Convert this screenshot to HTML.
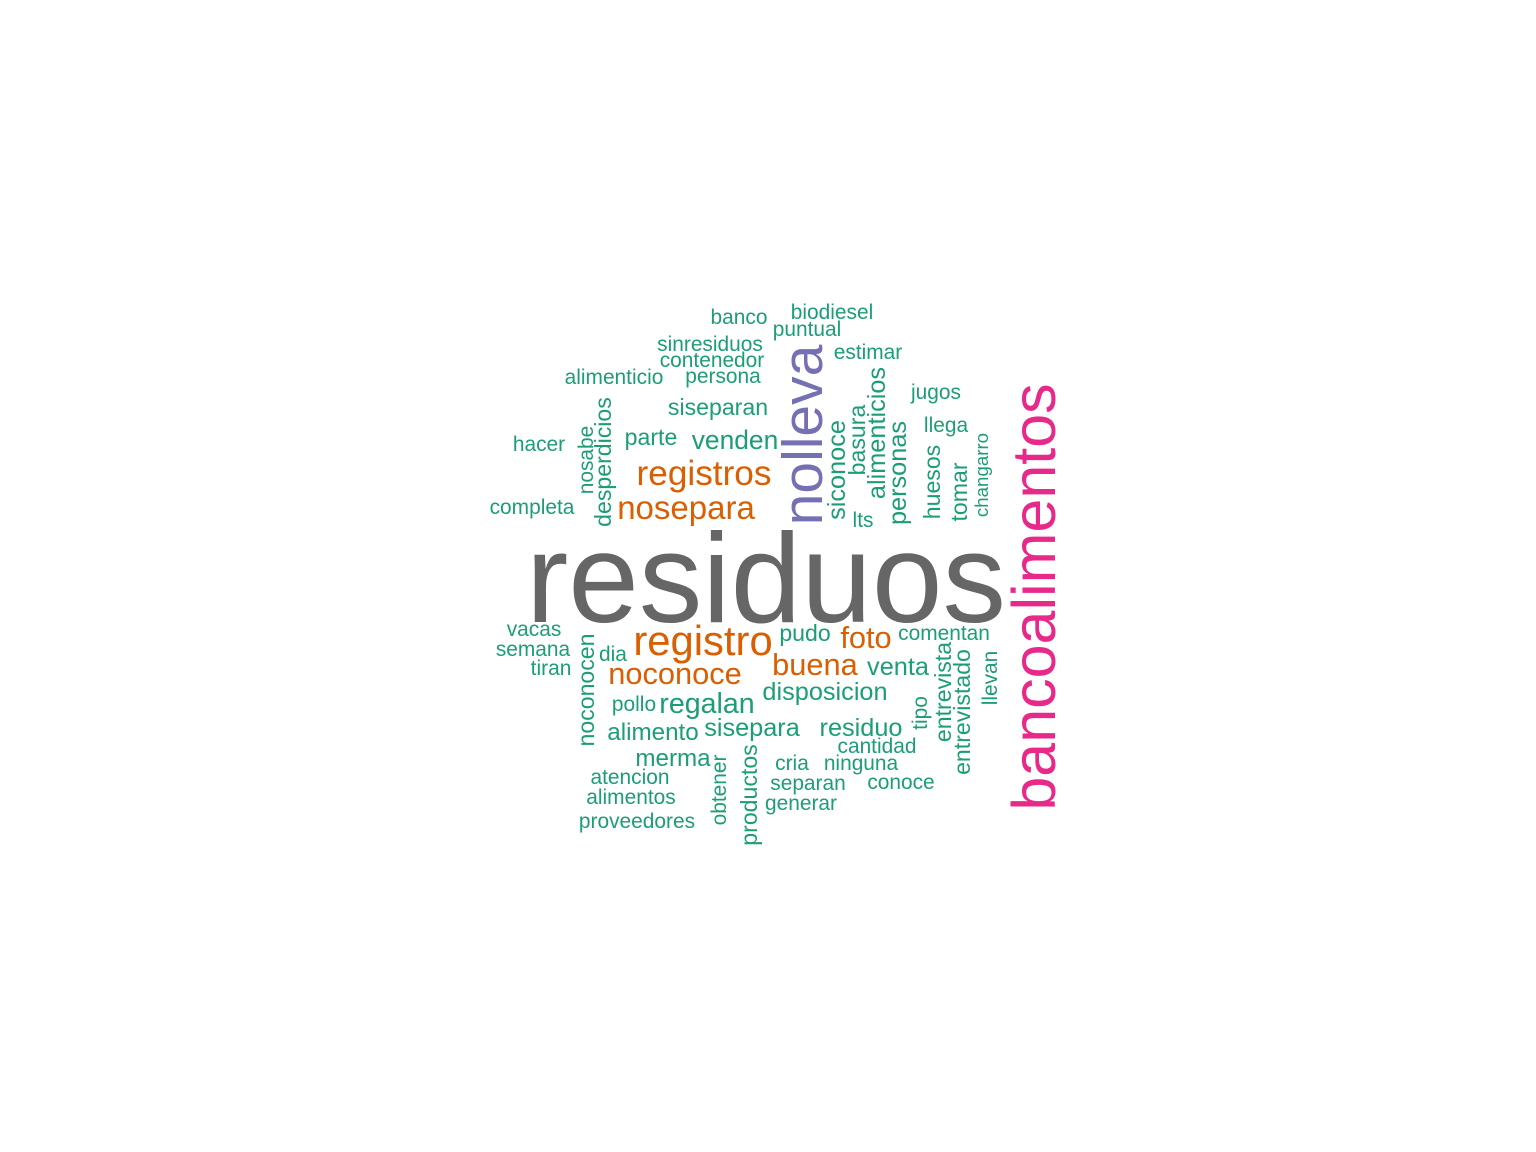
<!DOCTYPE html>
<html>
<head>
<meta charset="utf-8">
<style>
html,body{margin:0;padding:0;background:#fff;}
svg{display:block;}
text{font-family:"Liberation Sans",Arial,sans-serif;}
</style>
</head>
<body>
<svg id="cloud" width="1536" height="1152" viewBox="0 0 1536 1152" xmlns="http://www.w3.org/2000/svg">
<rect width="1536" height="1152" fill="#ffffff"/>
</svg>
<script>
// words and their relative frequency (font size scale)
const words = ["residuos","bancoalimentos","nolleva","registro","registros","nosepara","noconoce","buena","foto",
"venden","regalan","disposicion","sisepara","residuo","venta","siconoce","alimenticios","personas",
"siseparan","parte","pudo","alimento","merma","desperdicios","noconocen","basura","huesos","tomar",
"entrevista","entrevistado","productos",
"banco","biodiesel","puntual","sinresiduos","contenedor","estimar","alimenticio","persona","jugos","llega",
"hacer","completa","lts","vacas","semana","tiran","comentan","dia","pollo","cantidad","cria","ninguna",
"atencion","separan","conoce","alimentos","generar","proveedores","nosabe","changarro","llevan","tipo","obtener"];
const sizes = [127,61,57,38,32,30,28,28,28,
24,26,23,23,23,23,23,23,23,
21,21,21,22,22,21,21,21,21,21,
21,21,21,
19,19,19,19,19,19,19,19,19,19,
19,19,19,19,19,19,19,19,19,19,19,19,
19,19,19,19,19,19,19,17,19,19,19];
const colors = ["#666666","#E7298A","#7570B3","#D95F02","#D95F02","#D95F02","#D95F02","#D95F02","#D95F02"];
// layout (x, baseline y, rotation) from the word cloud placement
const layoutX = [766,1055,822,703,704,686,675,815,866,
735,707,825,752,861,898,845,885,906,
718,651,805,653,673,611,594,865,940,967,
951,970,757,
739,832,807,710,712,868,614,723,936,946,
539,532,863,534,533,551,944,613,634,877,792,861,
630,808,901,631,801,637,593,988,997,927,726];
const layoutY = [622,597,435,655,485,519,684,675,648,
449,713,700,736,736,675,470,433,473,
415,445,641,740,766,462,690,440,482,492,
692,712,795,
324,319,336,351,367,359,384,383,399,432,
451,514,527,636,656,675,640,661,711,753,770,770,
784,790,789,804,810,828,460,475,678,713,790];
const rotated = [0,1,1,0,0,0,0,0,0,
0,0,0,0,0,0,1,1,1,
0,0,0,0,0,1,1,1,1,1,
1,1,1,
0,0,0,0,0,0,0,0,0,0,
0,0,0,0,0,0,0,0,0,0,0,0,
0,0,0,0,0,0,1,1,1,1,1];
const svg = document.getElementById('cloud');
const NS = "http://www.w3.org/2000/svg";
words.forEach((w,i)=>{
  const t = document.createElementNS(NS,'text');
  
  
  t.setAttribute('text-anchor','middle');
  const fs = i < 3 ? sizes[i] : sizes[i] * 1.1;
  t.setAttribute('font-size', fs);
  t.setAttribute('fill', colors[i] || "#1B9E77");
  const x = layoutX[i], y = layoutY[i];
  if (rotated[i]) {
    t.setAttribute('x', 0); t.setAttribute('y', 0);
    t.setAttribute('transform', 'translate(' + x + ',' + y + ') rotate(-90)');
  } else {
    t.setAttribute('x', x); t.setAttribute('y', y);
  }
  t.textContent = w;
  svg.appendChild(t);
});
</script>
</body>
</html>
